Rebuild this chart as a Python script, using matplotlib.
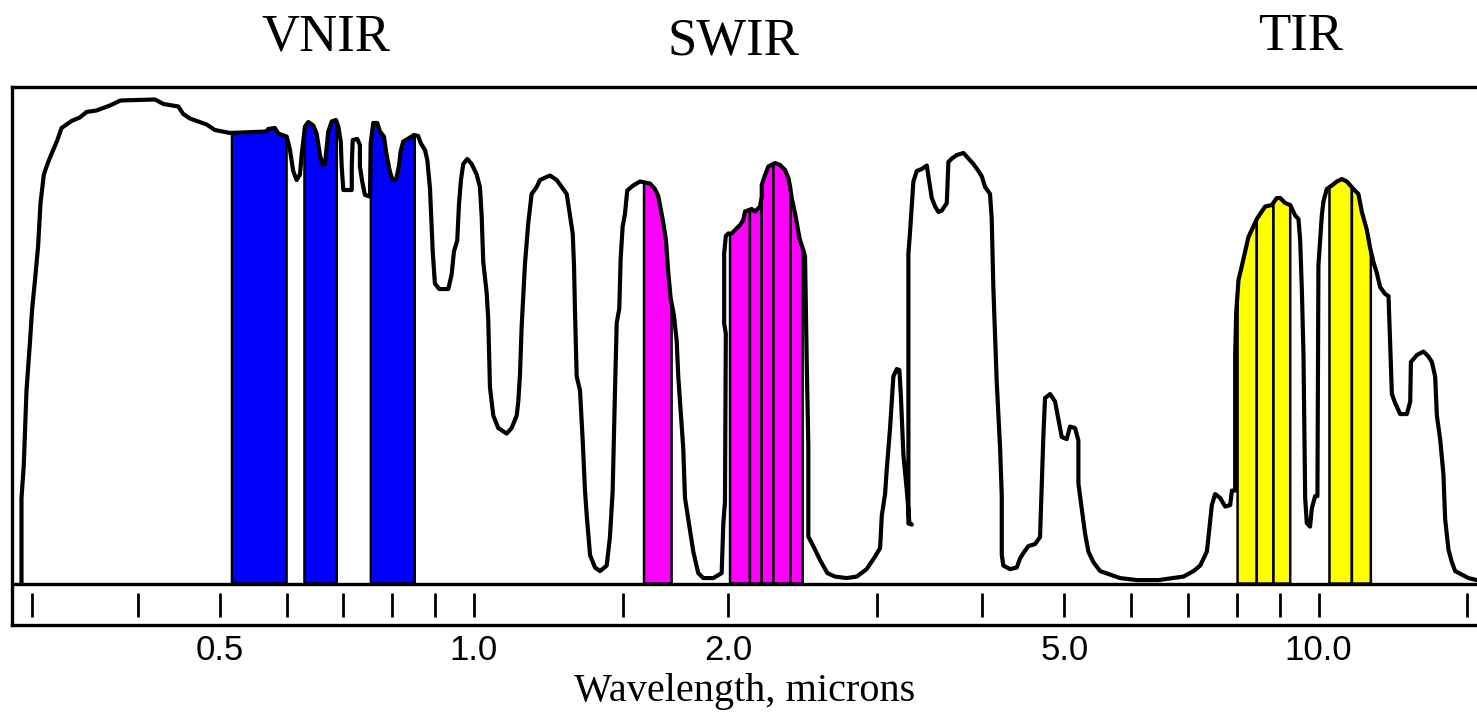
import numpy as np
import matplotlib
matplotlib.use("Agg")
import matplotlib.pyplot as plt
from matplotlib.ticker import NullLocator
from matplotlib.transforms import blended_transform_factory

# atmospheric transmission curve, wavelength (microns) vs transmission (%)
wavelength = np.array([
    0.2913, 0.2913, 0.2931, 0.2953, 0.2980, 0.2999, 0.3021, 0.3048, 0.3068, 0.3096,
    0.3133, 0.3170, 0.3211, 0.3249, 0.3339, 0.3415, 0.3478, 0.3574, 0.3707, 0.3816,
    0.4192, 0.4288, 0.4467, 0.4527, 0.4610, 0.4825, 0.4935, 0.5141, 0.5682, 0.5707,
    0.5813, 0.5866, 0.6001, 0.6055, 0.6109, 0.6167, 0.6223, 0.6252, 0.6309, 0.6366,
    0.6453, 0.6513, 0.6572, 0.6620, 0.6663, 0.6723, 0.6786, 0.6866, 0.6909, 0.6955,
    0.6973, 0.7004, 0.7167, 0.7167, 0.7186, 0.7276, 0.7328, 0.7328, 0.7374, 0.7429,
    0.7532, 0.7546, 0.7600, 0.7683, 0.7739, 0.7824, 0.7881, 0.7952, 0.8011, 0.8083,
    0.8150, 0.8188, 0.8247, 0.8383, 0.8492, 0.8590, 0.8648, 0.8750, 0.8806, 0.8870,
    0.8937, 0.8990, 0.9097, 0.9324, 0.9410, 0.9469, 0.9555, 0.9599, 0.9652, 0.9712,
    0.9819, 0.9938, 1.0074, 1.0165, 1.0212, 1.0257, 1.0352, 1.0397, 1.0446, 1.0541,
    1.0685, 1.0932, 1.1082, 1.1236, 1.1285, 1.1337, 1.1389, 1.1492, 1.1596, 1.1703,
    1.1863, 1.1973, 1.2303, 1.2530, 1.2701, 1.2878, 1.2994, 1.3090, 1.3136, 1.3172,
    1.3233, 1.3353, 1.3451, 1.3535, 1.3600, 1.3723, 1.3911, 1.4101, 1.4360, 1.4488,
    1.4596, 1.4689, 1.4757, 1.4862, 1.4917, 1.4999, 1.5093, 1.5188, 1.5437, 1.5724,
    1.6157, 1.6379, 1.6527, 1.6726, 1.6881, 1.6986, 1.7096, 1.7250, 1.7378, 1.7454,
    1.7570, 1.7692, 1.7777, 1.7937, 1.8183, 1.8432, 1.8685, 1.9204, 1.9647, 1.9733,
    1.9824, 1.9870, 1.9780, 1.9780, 1.9870, 2.0000, 2.0193, 2.0375, 2.0654, 2.0840,
    2.0937, 2.1322, 2.1514, 2.1813, 2.1914, 2.1914, 2.2112, 2.2312, 2.2723, 2.3034,
    2.3354, 2.3565, 2.3674, 2.3780, 2.3994, 2.4210, 2.4322, 2.4542, 2.4660, 2.4774,
    2.4883, 2.4883, 2.5113, 2.5457, 2.5687, 2.6207, 2.6762, 2.7627, 2.8393, 2.9174,
    2.9843, 3.0259, 3.0399, 3.0672, 3.0814, 3.1092, 3.1372, 3.1663, 3.1890, 3.2015,
    3.2245, 3.2544, 3.2776, 3.2988, 3.2686, 3.2686, 3.2836, 3.3133, 3.3440, 3.3898,
    3.4369, 3.4520, 3.4834, 3.5156, 3.5472, 3.5801, 3.6291, 3.6449, 3.6798, 3.7301,
    3.7977, 3.8496, 3.9025, 3.9561, 3.9927, 4.0288, 4.0832, 4.1020, 4.1200, 4.1581,
    4.1966, 4.2160, 4.2160, 4.2345, 4.3120, 4.3911, 4.4308, 4.4708, 4.5330, 4.6162,
    4.6794, 4.7217, 4.7435, 4.8095, 4.8753, 4.9193, 4.9648, 5.0327, 5.0781, 5.1488,
    5.1953, 5.1953, 5.2434, 5.2907, 5.3385, 5.4116, 5.5122, 5.6642, 5.8210, 6.0911,
    6.4600, 6.9183, 7.1104, 7.2409, 7.3063, 7.3740, 7.4063, 7.4749, 7.5424, 7.6475,
    7.7522, 7.8584, 7.8947, 7.9660, 7.9660, 7.9881, 8.0380, 8.1143, 8.1846, 8.2585,
    8.3714, 8.4490, 8.5253, 8.6444, 8.8034, 8.9238, 9.0044, 9.1278, 9.2551, 9.3817,
    9.4664, 9.5101, 9.5540, 9.5959, 9.6405, 9.6828, 9.7702, 9.8153, 9.9060, 9.9678,
    9.9950, 10.041, 10.088, 10.132, 10.226, 10.366, 10.510, 10.654, 10.800, 10.997,
    11.146, 11.252, 11.406, 11.508, 11.612, 11.720, 11.825, 11.988, 12.099, 12.155,
    12.211, 12.321, 12.490, 12.720, 12.837, 12.861, 13.072, 13.309, 13.490, 13.618,
    13.740, 13.804, 13.928, 14.054, 14.119, 14.247, 14.379, 14.509, 14.779, 15.047,
    15.394])

transmission = np.array([
    0.0, 17.1, 23.6, 38.6, 47.9, 55.0, 60.4, 67.5, 76.1, 81.8,
    84.3, 86.4, 88.6, 91.1, 92.5, 93.2, 94.3, 94.6, 95.6, 96.6,
    96.8, 95.9, 95.4, 93.9, 93.0, 91.8, 90.7, 90.1, 90.4, 90.9,
    91.1, 90.0, 89.4, 86.8, 82.5, 80.7, 81.8, 85.7, 91.4, 92.3,
    91.6, 90.0, 85.7, 83.7, 84.0, 90.4, 92.4, 92.7, 91.4, 88.4,
    83.4, 78.7, 78.7, 83.7, 88.7, 88.9, 87.7, 83.4, 80.4, 77.7,
    77.4, 88.0, 92.1, 92.1, 90.4, 89.4, 85.7, 82.4, 80.7, 80.7,
    83.4, 86.4, 88.4, 89.1, 89.7, 89.5, 88.1, 86.7, 84.7, 79.1,
    66.4, 60.0, 58.9, 58.9, 61.8, 66.4, 68.6, 75.7, 80.7, 83.9,
    84.9, 83.9, 81.8, 79.3, 73.6, 64.3, 58.2, 52.9, 39.3, 33.6,
    31.1, 30.0, 31.1, 33.6, 36.4, 41.8, 51.4, 63.9, 72.1, 77.9,
    79.3, 80.7, 81.6, 80.7, 79.3, 77.9, 73.6, 70.0, 63.6, 54.3,
    41.4, 38.6, 28.6, 18.6, 13.6, 5.7, 3.2, 2.5, 3.6, 9.3,
    18.6, 38.6, 52.1, 55.0, 65.0, 71.4, 73.9, 78.6, 79.6, 80.4,
    80.0, 78.9, 77.5, 72.9, 68.6, 62.1, 57.1, 53.6, 48.6, 41.4,
    34.3, 27.1, 17.1, 12.9, 6.4, 2.1, 1.1, 1.1, 2.1, 11.8,
    16.4, 50.0, 52.0, 66.0, 69.5, 70.0, 70.0, 70.7, 71.7, 72.7,
    74.4, 74.9, 74.4, 75.4, 77.4, 79.7, 81.7, 83.4, 84.1, 83.7,
    82.7, 81.1, 79.4, 77.1, 74.1, 70.4, 68.7, 66.7, 65.4, 44.1,
    27.4, 9.4, 8.1, 6.1, 4.7, 2.1, 1.4, 1.1, 1.4, 2.9,
    5.4, 7.1, 13.6, 17.9, 22.9, 31.1, 41.4, 42.9, 42.7, 37.9,
    25.7, 18.6, 12.1, 11.8, 12.0, 66.0, 70.4, 80.4, 82.5, 82.9,
    83.6, 81.4, 77.1, 75.4, 74.3, 74.6, 76.1, 84.3, 85.0, 85.7,
    86.1, 85.0, 83.9, 82.5, 81.4, 79.3, 77.9, 72.9, 59.3, 40.4,
    27.1, 17.5, 5.7, 3.6, 2.9, 3.2, 5.0, 6.1, 7.5, 7.9,
    9.3, 29.3, 37.1, 37.9, 36.4, 32.9, 29.3, 28.9, 31.4, 31.1,
    28.6, 20.0, 15.0, 10.0, 6.4, 4.3, 2.5, 1.8, 1.1, 0.7,
    0.7, 1.4, 2.5, 3.6, 5.0, 6.4, 9.3, 15.7, 17.9, 17.1,
    15.4, 15.7, 18.6, 18.6, 45.7, 54.3, 60.7, 63.6, 66.4, 69.3,
    71.4, 72.9, 73.9, 75.4, 75.7, 77.1, 77.1, 76.1, 75.7, 73.6,
    72.9, 68.6, 58.6, 45.7, 17.1, 12.1, 11.4, 15.0, 17.5, 17.5,
    63.6, 68.6, 73.6, 76.4, 78.9, 79.6, 80.4, 80.9, 80.4, 78.9,
    77.9, 74.3, 70.7, 67.1, 64.3, 62.1, 59.3, 57.9, 57.5, 47.9,
    37.9, 36.1, 33.9, 33.9, 36.4, 44.3, 45.7, 46.4, 45.4, 44.3,
    41.4, 33.6, 28.9, 21.8, 12.9, 6.8, 4.3, 2.5, 1.8, 1.1,
    0.7])

# sensor bands (start, end) in microns
vnir_bands = [(0.517, 0.600), (0.630, 0.688), (0.755, 0.851)]
swir_bands = [(1.590, 1.714), (2.010, 2.122), (2.122, 2.191), (2.191, 2.262),
              (2.262, 2.371), (2.371, 2.450)]
tir_bands = [(8.018, 8.449), (8.449, 8.842), (8.842, 9.255),
             (10.30, 10.95), (10.95, 11.53)]

region_names = ["VNIR", "SWIR", "TIR"]

tick_marks = [0.3, 0.4, 0.5, 0.6, 0.7, 0.8, 0.9, 1.0, 1.5, 2.0, 3.0, 4.0,
              5.0, 6.0, 7.0, 8.0, 9.0, 10.0, 15.0]
label_ticks = [0.5, 1.0, 2.0, 5.0, 10.0]
label_text = ["0.5", "1.0", "2.0", "5.0", "10.0"]

# layout
region_x = [0.668, 2.03, 9.51]
region_y = [0.948, 0.943, 0.948]

fig = plt.figure(figsize=(14.77, 7.2), dpi=100)
ax = fig.add_axes([0.0079, 0.1325, 0.9921, 0.7467])
ax.set_xscale("log")
ax.set_xlim(0.2836, 15.40)
ax.set_ylim(-8.2, 99.3)

order = np.argsort(wavelength, kind="stable")
wl_sorted, tr_sorted = wavelength[order], transmission[order]


def draw_band(lo, hi, color):
    t_lo = np.interp(lo, wl_sorted, tr_sorted)
    t_hi = np.interp(hi, wl_sorted, tr_sorted)
    inside = (wavelength > lo) & (wavelength < hi)
    xs = [lo, lo] + list(wavelength[inside]) + [hi, hi]
    ys = [0, t_lo] + list(transmission[inside]) + [t_hi, 0]
    ax.fill(xs, ys, facecolor=color, edgecolor="black", lw=1.8, zorder=2)


for lo, hi in vnir_bands:
    draw_band(lo, hi, "#0000ff")
for lo, hi in swir_bands:
    draw_band(lo, hi, "#ff00ff")
for lo, hi in tir_bands:
    draw_band(lo, hi, "#ffff00")

ax.plot(wavelength, transmission, color="black", lw=3.0, zorder=3,
        solid_joinstyle="round")
ax.axhline(0, color="black", lw=2.4, zorder=4)
ax.vlines(tick_marks, -6.7, -1.9, color="black", lw=2.0)

ax.xaxis.set_minor_locator(NullLocator())
ax.set_xticks(label_ticks)
ax.set_xticklabels(label_text, family=["Liberation Sans Narrow", "Liberation Sans"],
                   fontsize=25)
ax.tick_params(axis="x", length=0, pad=7)
ax.set_yticks([])
for side in ["left", "top", "bottom"]:
    ax.spines[side].set_linewidth(2.4)
ax.spines["right"].set_visible(False)

ax.set_xlabel("Wavelength, microns", family="Liberation Serif", fontsize=29,
              labelpad=4)

trans = blended_transform_factory(ax.transData, fig.transFigure)
for name, x, y in zip(region_names, region_x, region_y):
    ax.text(x, y, name, transform=trans, ha="center", va="center",
            family="Liberation Serif", fontsize=38)

fig.savefig("out.png", dpi=100)
